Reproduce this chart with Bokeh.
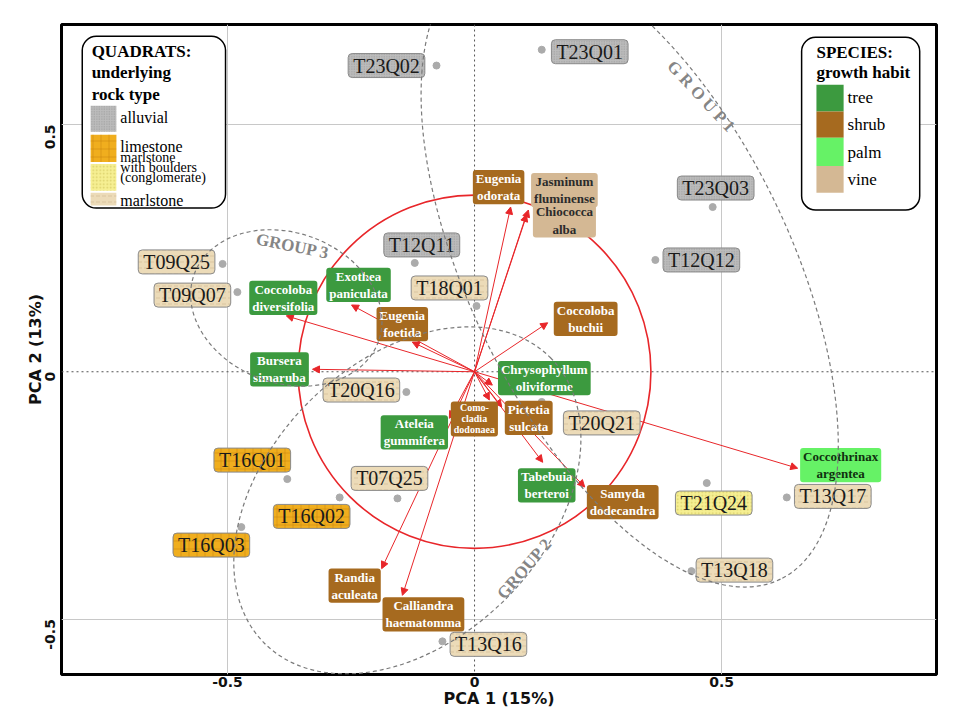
import math
from bokeh.plotting import figure
from bokeh.models import (ColumnDataSource, Arrow, NormalHead, Span, FixedTicker,
                          CustomJSTickFormatter, BoxAnnotation)
from bokeh.core.properties import value
from bokeh.embed import file_html
from bokeh.resources import INLINE

# ---------------- data ----------------
quadrat_ids = ["T23Q01", "T23Q02", "T23Q03", "T12Q12", "T12Q11", "T09Q25", "T09Q07",
               "T18Q01", "T20Q16", "T20Q21", "T07Q25", "T16Q01", "T16Q02", "T16Q03",
               "T21Q24", "T13Q17", "T13Q18", "T13Q16"]
quadrat_pc1 = [0.136, -0.077, 0.482, 0.366, -0.121, -0.510, -0.480, 0.004, -0.138, 0.136,
               -0.156, -0.379, -0.273, -0.472, 0.470, 0.632, 0.439, -0.065]
quadrat_pc2 = [0.651, 0.619, 0.333, 0.226, 0.220, 0.218, 0.161, 0.133, -0.041, -0.061,
               -0.256, -0.217, -0.254, -0.314, -0.225, -0.254, -0.403, -0.545]
quadrat_rock = ["alluvial", "alluvial", "alluvial", "alluvial", "alluvial", "marlstone",
                "marlstone", "marlstone", "marlstone", "marlstone", "marlstone", "limestone",
                "limestone", "limestone", "conglomerate", "marlstone", "marlstone", "marlstone"]

species_labels = ["Eugenia\nodorata", "Jasminum\nfluminense", "Chiococca\nalba",
                  "Coccoloba\ndiversifolia", "Bursera\nsimaruba", "Exothea\npaniculata",
                  "Eugenia\nfoetida", "Coccoloba\nbuchii", "Chrysophyllum\noliviforme",
                  "Como-\ncladia\ndodonaea", "Pictetia\nsulcata", "Ateleia\ngummifera",
                  "Tabebuia\nberteroi", "Samyda\ndodecandra", "Coccothrinax\nargentea",
                  "Randia\naculeata", "Calliandra\nhaematomma"]
species_pc1 = [0.073, 0.109, 0.105, -0.381, -0.328, -0.249, -0.126, 0.148, 0.036, 0.030,
               0.055, -0.051, 0.138, 0.223, 0.654, -0.188, -0.146]
species_pc2 = [0.333, 0.327, 0.318, 0.113, 0.005, 0.135, 0.060, 0.099, -0.027, -0.057,
               -0.071, -0.094, -0.183, -0.233, -0.195, -0.398, -0.452]
species_habit = ["shrub", "vine", "vine", "tree", "tree", "tree", "shrub", "shrub", "tree",
                 "shrub", "shrub", "tree", "tree", "shrub", "palm", "shrub", "shrub"]

# group ellipses (centre, diameters along own axes, rotation)
group_names = ["G R O U P  1", "GROUP 2", "GROUP 3"]
group_cx = [0.314, -0.136, -0.381]
group_cy = [0.206, -0.260, 0.129]
group_w = [1.393, 0.818, 0.397]
group_h = [0.648, 0.563, 0.304]
group_angle = [-1.117, 0.785, -0.349]

# ---------------- layout / style ----------------
quad_dx = [48, -50, 3, 46, 7, -46, -45, -27, -45, 60, -8, -35, -28, -30, 7, 46, 43, 46]
quad_dy = [2, 0, -19, 0, -18, -2, 3, -18, -2, 21, -20, -19, 19, 18, 20, -1, -1, 3]
sp_dx = [-12, 36, 38, -3, -33, 7, -10, 38, 52, -15, 27, -35, 4, 38, 43, -27, 21]
sp_dy = [-20, -20, 6, -18, 0, -20, -18, -4, -7, 19, 11, 14, 23, 15, -3, 17, 19]

rock_style = {
    "alluvial": dict(fill="#bcbcbc", hatch="dot", hcolor="#7a7a7a", hscale=2.5, halpha=0.55),
    "limestone": dict(fill="#f0ae1e", hatch="cross", hcolor="#c8820a", hscale=8.0, halpha=0.7),
    "conglomerate": dict(fill="#f6ef92", hatch="dot", hcolor="#cfc35a", hscale=3.5, halpha=0.7),
    "marlstone": dict(fill="#ecdbb8", hatch="horizontal_dash", hcolor="#c6ae84", hscale=6.0, halpha=0.7),
}
habit_fill = {"tree": "#3c9a3f", "shrub": "#a66a1f", "palm": "#66f266", "vine": "#d4b894"}
habit_text = {"tree": "white", "shrub": "white", "palm": "#10300f", "vine": "#2b2b2b"}
RED = "#e8262a"
SERIF = value("Liberation Serif")

p = figure(width=956, height=710, x_range=(-0.836, 0.935), y_range=(-0.612, 0.702),
           output_backend="svg", toolbar_location=None,
           min_border_left=61, min_border_right=20, min_border_top=24, min_border_bottom=30)
p.background_fill_color = "white"
p.border_fill_color = "white"
p.outline_line_color = "black"
p.outline_line_width = 3

# grid
p.xgrid.ticker = FixedTicker(ticks=[-0.5, 0.5])
p.ygrid.ticker = FixedTicker(ticks=[-0.5, 0.5])
p.grid.grid_line_color = "#c8c8c8"
p.grid.grid_line_width = 1

# axes
for ax in (p.xaxis, p.yaxis):
    ax.ticker = FixedTicker(ticks=[-0.5, 0, 0.5])
    ax.formatter = CustomJSTickFormatter(code="return tick.toString();")
    ax.axis_line_color = None
    ax.major_tick_line_color = None
    ax.minor_tick_line_color = None
    ax.major_tick_out = 0
    ax.major_tick_in = 0
    ax.major_label_text_font = "DejaVu Sans"
    ax.major_label_text_font_style = "bold"
    ax.major_label_text_font_size = "14px"
    ax.major_label_text_color = "#111111"
    ax.axis_label_text_font = "DejaVu Sans"
    ax.axis_label_text_font_style = "bold"
    ax.axis_label_text_font_size = "16px"
    ax.axis_label_text_color = "#111111"
p.xaxis.axis_label = "PCA 1 (15%)"
p.yaxis.axis_label = "PCA 2 (13%)"
p.xaxis.major_label_standoff = 2
p.xaxis.axis_label_standoff = -1
p.yaxis.major_label_orientation = math.pi / 2
p.yaxis.major_label_standoff = 11
p.yaxis.axis_label_standoff = -7

# outer page frame
p.add_layout(BoxAnnotation(left=11, right=953, top=6, bottom=760,
                           left_units="canvas", right_units="canvas",
                           top_units="canvas", bottom_units="canvas",
                           fill_color=None, fill_alpha=0, line_color="#222222",
                           line_width=1, line_alpha=1, level="overlay"))

# zero lines
p.add_layout(Span(location=0, dimension="width", line_color="#555555", line_dash="2 3",
                  line_width=1, level="underlay"))
p.add_layout(Span(location=0, dimension="height", line_color="#555555", line_dash="2 3",
                  line_width=1, level="underlay"))

# correlation circle
p.ellipse(x=[0], y=[0], width=[0.714], height=[0.714], fill_color=None,
          line_color=RED, line_width=1.6)

# species arrows
sp_src = ColumnDataSource(dict(x=species_pc1, y=species_pc2, label=species_labels,
                               habit=species_habit, dx=sp_dx, dy=sp_dy))
p.add_layout(Arrow(end=NormalHead(size=7, fill_color=RED, line_color=RED, line_width=1),
                   x_start=0, y_start=0, x_end="x", y_end="y", source=sp_src,
                   line_color=RED, line_width=1, level="underlay"))

# quadrat points
p.scatter(x=quadrat_pc1, y=quadrat_pc2, size=7, color="#ababab")

# quadrat labels
for rock, st in rock_style.items():
    idx = [i for i, r in enumerate(quadrat_rock) if r == rock]
    src = ColumnDataSource(dict(x=[quadrat_pc1[i] for i in idx], y=[quadrat_pc2[i] for i in idx],
                                t=[quadrat_ids[i] for i in idx],
                                dx=[quad_dx[i] for i in idx], dy=[quad_dy[i] for i in idx]))
    p.text(x="x", y="y", text="t", x_offset="dx", y_offset="dy", source=src,
           text_align="center", text_baseline="middle", text_font=SERIF,
           text_font_size="20px", text_color="#1a1a1a",
           background_fill_color=st["fill"], background_hatch_pattern=st["hatch"],
           background_hatch_color=st["hcolor"], background_hatch_scale=st["hscale"],
           background_hatch_weight=0.7, background_hatch_alpha=st["halpha"],
           border_line_color="#8a8a8a", border_line_width=1, border_radius=4,
           padding=(5, 1))

# species labels
for habit in ["tree", "shrub", "palm", "vine"]:
    for small in (False, True):
        idx = [i for i, h in enumerate(species_habit)
               if h == habit and (species_labels[i].count("\n") == 2) == small]
        if not idx:
            continue
        src = ColumnDataSource(dict(x=[species_pc1[i] for i in idx], y=[species_pc2[i] for i in idx],
                                    t=[species_labels[i] for i in idx],
                                    dx=[sp_dx[i] for i in idx], dy=[sp_dy[i] for i in idx]))
        p.text(x="x", y="y", text="t", x_offset="dx", y_offset="dy", source=src,
               text_align="center", text_baseline="middle", text_font=SERIF,
               text_font_style="bold", text_font_size="10px" if small else "13px",
               text_line_height=1.0 if small else 1.15,
               text_color=habit_text[habit], background_fill_color=habit_fill[habit],
               border_line_color=None, border_radius=3, padding=(3, 1))

# group ellipses
p.ellipse(x=group_cx, y=group_cy, width=group_w, height=group_h, angle=group_angle,
          fill_color=None, line_color="#7a7a7a", line_dash="4 3", line_width=1.2)
p.text(x=[0.462, 0.101, -0.368], y=[0.553, -0.398, 0.254],
       text=group_names, angle=[-0.82, 0.86, -0.2],
       text_align="center", text_baseline="middle", text_font=SERIF,
       text_font_style="bold", text_font_size="17px", text_color="#858585")

# ---------------- legends ----------------
# quadrats legend
p.quad(left=[-0.794], right=[-0.504], top=[0.678], bottom=[0.331], fill_color="white",
       line_color="black", line_width=1.5, border_radius=14)
p.text(x=[-0.775] * 3, y=[0.647, 0.605, 0.560], text=["QUADRATS:", "underlying", "rock type"],
       text_align="left", text_baseline="middle", text_font=SERIF, text_font_style="bold",
       text_font_size="17px", text_color="black")
sw_top = [0.538, 0.479, 0.420, 0.362]
sw_bot = [0.485, 0.424, 0.366, 0.336]
for k, rock in enumerate(["alluvial", "limestone", "conglomerate", "marlstone"]):
    st = rock_style[rock]
    p.quad(left=[-0.777], right=[-0.725], top=[sw_top[k]], bottom=[sw_bot[k]],
           fill_color=st["fill"], line_color=None, hatch_pattern=st["hatch"],
           hatch_color=st["hcolor"], hatch_scale=st["hscale"], hatch_weight=0.7,
           hatch_alpha=st["halpha"])
p.text(x=[-0.717] * 2, y=[0.513, 0.455], text=["alluvial", "limestone"],
       text_align="left", text_baseline="middle", text_font=SERIF, text_font_size="16px",
       text_color="black")
p.text(x=[-0.717] * 3, y=[0.434, 0.413, 0.392],
       text=["marlstone", "with boulders", "(conglomerate)"],
       text_align="left", text_baseline="middle", text_font=SERIF, text_font_size="14px",
       text_color="black")
p.text(x=[-0.717], y=[0.347], text=["marlstone"],
       text_align="left", text_baseline="middle", text_font=SERIF, text_font_size="16px",
       text_color="black")

# species legend
p.quad(left=[0.662], right=[0.901], top=[0.676], bottom=[0.327], fill_color="white",
       line_color="black", line_width=1.5, border_radius=14)
p.text(x=[0.692] * 2, y=[0.645, 0.605], text=["SPECIES:", "growth habit"],
       text_align="left", text_baseline="middle", text_font=SERIF, text_font_style="bold",
       text_font_size="17px", text_color="black")
hab_top = [0.580, 0.526, 0.473, 0.416]
hab_bot = [0.526, 0.473, 0.416, 0.362]
hab_names = ["tree", "shrub", "palm", "vine"]
p.quad(left=[0.692] * 4, right=[0.747] * 4, top=hab_top, bottom=hab_bot,
       fill_color=[habit_fill[h] for h in hab_names], line_color=None)
p.text(x=[0.755] * 4, y=[0.554, 0.499, 0.443, 0.388], text=hab_names,
       text_align="left", text_baseline="middle", text_font=SERIF, text_font_size="17px",
       text_color="black")

open("out.html", "w").write(file_html(p, INLINE))
